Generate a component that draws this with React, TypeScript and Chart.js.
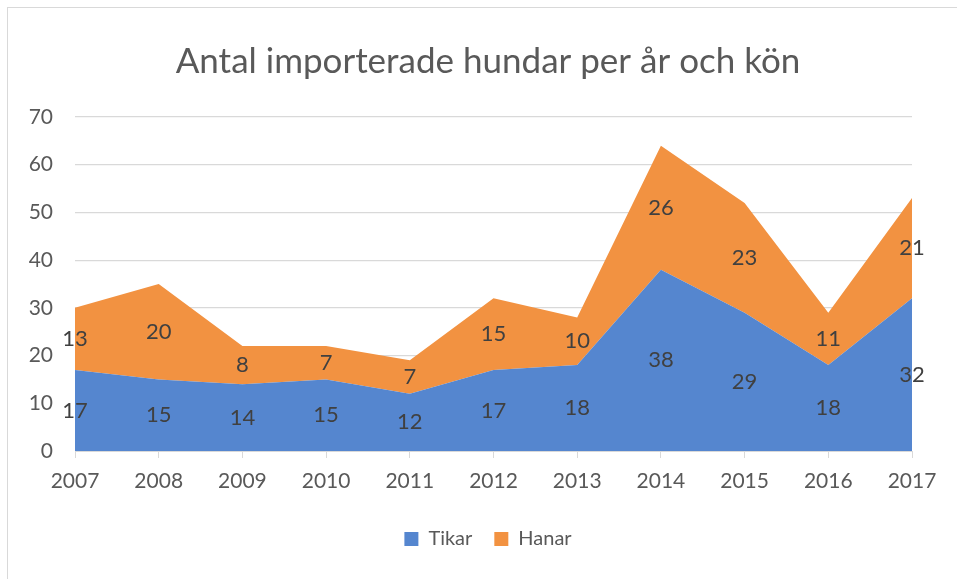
import React, { useEffect, useRef } from "react";
import { Chart, registerables } from "chart.js";

Chart.register(...registerables);

const categories = ["2007", "2008", "2009", "2010", "2011", "2012", "2013", "2014", "2015", "2016", "2017"];
const tikar = [17, 15, 14, 15, 12, 17, 18, 38, 29, 18, 32];
const hanar = [13, 20, 8, 7, 7, 15, 10, 26, 23, 11, 21];
const seriesNames = ["Tikar", "Hanar"];
const titleText = "Antal importerade hundar per år och kön";

const FONT = "Lato, 'Open Sans', sans-serif";

const dataLabelPlugin = {
  id: "bandLabels",
  afterDatasetsDraw(chart: any) {
    const ctx = chart.ctx;
    const yScale = chart.scales.y;
    const xScale = chart.scales.x;
    const cum: number[] = new Array(categories.length).fill(0);
    ctx.save();
    ctx.font = `normal 22px ${FONT}`;
    ctx.fillStyle = "#404040";
    ctx.textAlign = "center";
    ctx.textBaseline = "middle";
    chart.data.datasets.forEach((ds: any) => {
      ds.data.forEach((v: number, i: number) => {
        const lo = cum[i];
        const hi = cum[i] + v;
        cum[i] = hi;
        const y = (yScale.getPixelForValue(lo) + yScale.getPixelForValue(hi)) / 2;
        const x = xScale.getPixelForValue(i);
        ctx.fillText(String(v), x, y);
      });
    });
    ctx.restore();
  },
};

export default function App() {
  const ref = useRef<HTMLCanvasElement>(null);
  useEffect(() => {
    if (!ref.current) return;
    const chart = new Chart(ref.current, {
      type: "line",
      data: {
        labels: categories,
        datasets: [
          {
            label: seriesNames[0],
            data: tikar,
            backgroundColor: "#5586CF",
            borderColor: "#5586CF",
            borderWidth: 0,
            pointRadius: 0,
            fill: "origin",
            tension: 0,
          },
          {
            label: seriesNames[1],
            data: hanar,
            backgroundColor: "#F29241",
            borderColor: "#F29241",
            borderWidth: 0,
            pointRadius: 0,
            fill: "-1",
            tension: 0,
          },
        ],
      },
      options: {
        animation: false,
        responsive: false,
        maintainAspectRatio: false,
        layout: { padding: { left: 19, right: 0, top: 0, bottom: 20 } },
        plugins: {
          tooltip: { enabled: false },
          title: {
            display: true,
            text: titleText,
            color: "#595959",
            font: { family: FONT, size: 35, weight: "normal" },
            padding: { top: 41, bottom: 34 },
          },
          legend: {
            display: true,
            position: "bottom",
            labels: {
              color: "#595959",
              font: { family: FONT, size: 20 },
              boxWidth: 14,
              boxHeight: 14,
              padding: 22,
            },
          },
        },
        scales: {
          x: {
            type: "category",
            offset: false,
            grid: { drawOnChartArea: false, drawTicks: true, tickLength: 7, color: "#d9d9d9" },
            border: { display: true, color: "#d9d9d9", width: 1 },
            ticks: {
              color: "#595959",
              font: { family: FONT, size: 21 },
              padding: 11,
              maxRotation: 0,
              autoSkip: false,
            },
            afterFit: (s: any) => {
              s.height = 56;
            },
          },
          y: {
            stacked: true,
            min: 0,
            max: 70,
            grid: { color: "#d9d9d9", lineWidth: 1.2, drawTicks: false },
            border: { display: false },
            ticks: {
              stepSize: 10,
              color: "#595959",
              font: { family: FONT, size: 21 },
              padding: 22,
            },
            afterFit: (s: any) => {
              s.width = 56;
            },
          },
          yRight: {
            position: "right",
            display: true,
            min: 0,
            max: 70,
            grid: { display: false, drawOnChartArea: false },
            border: { display: false },
            ticks: { display: false },
            afterFit: (s: any) => {
              s.width = 45;
            },
          },
        },
      },
      plugins: [dataLabelPlugin],
    });
    return () => chart.destroy();
  }, []);

  return (
    <div style={{ position: "fixed", left: 0, top: 0, width: 957, height: 579, background: "#fff" }}>
      <div
        style={{
          position: "absolute",
          left: 7,
          top: 7,
          width: 980,
          height: 600,
          borderLeft: "1px solid #d9d9d9",
          borderTop: "1px solid #d9d9d9",
        }}
      />
      <canvas ref={ref} width={957} height={579} style={{ position: "absolute", left: 0, top: 0, width: 957, height: 579 }} />
    </div>
  );
}
